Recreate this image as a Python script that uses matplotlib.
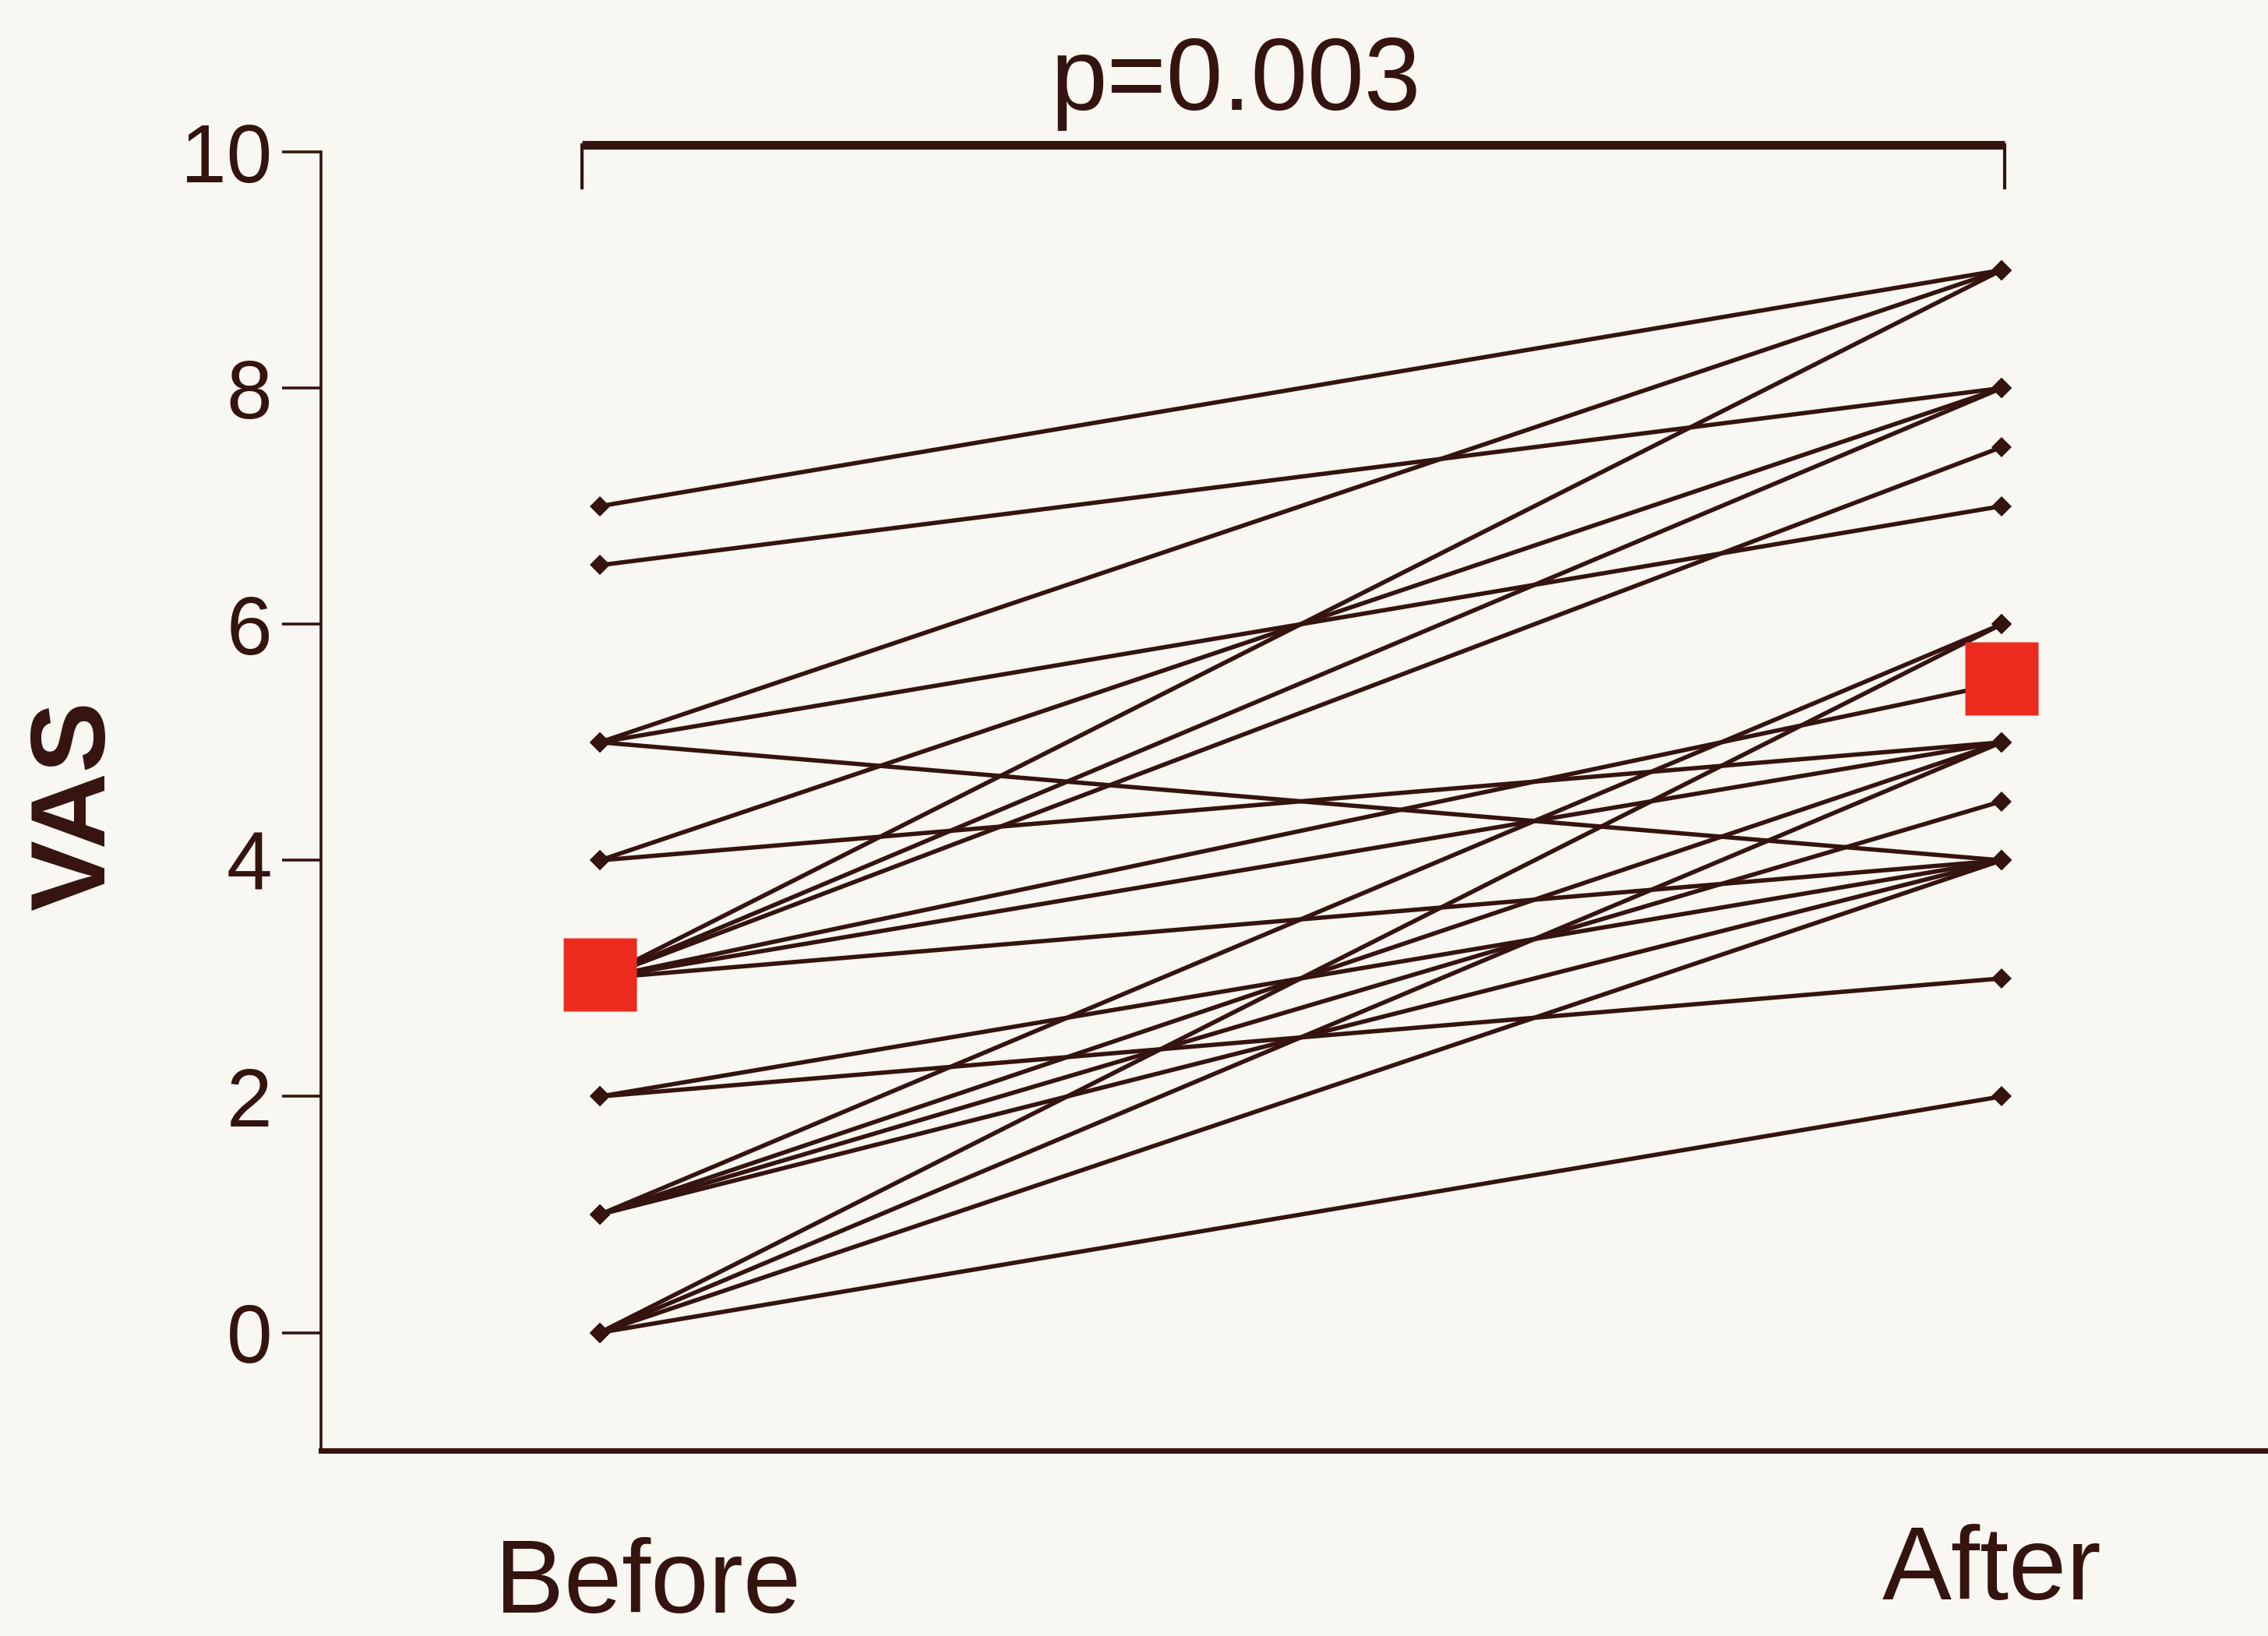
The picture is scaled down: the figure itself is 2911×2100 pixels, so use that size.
import matplotlib.pyplot as plt
import numpy as np

plt.rcParams["font.family"] = ["Liberation Sans", "DejaVu Sans"]

GROUPS = ["Before", "After"]
# paired VAS scores, one entry per patient
VAS_BEFORE = [7, 6.5, 5, 5, 5, 4, 4, 3, 3, 3, 3, 3, 3, 2, 2, 1, 1, 1, 1, 0, 0, 0, 0]
VAS_AFTER = [9, 8, 9, 7, 4, 8, 5, 9, 8, 7.5, 5.5, 5, 4, 4, 3, 6, 5, 4.5, 4, 6, 5, 4, 2]
MEAN_VAS = [3.03, 5.54]
P_LABEL = "p=0.003"
Y_TICKS = [0, 2, 4, 6, 8, 10]

INK = "#35130f"
RED = "#ec2a1e"
PAPER = "#f8f7f2"

fig = plt.figure(figsize=(29.11, 21.0), dpi=100, facecolor=PAPER)
ax = fig.add_axes([0.1415, 0.1133, 0.8585, 0.7938])
ax.set_facecolor(PAPER)

x = np.arange(len(GROUPS))
for b, a in zip(VAS_BEFORE, VAS_AFTER):
    ax.plot(x, [b, a], color=INK, lw=4.0, marker="D", ms=13, mew=0, zorder=2)
ax.plot(x, MEAN_VAS, ls="none", marker="s", ms=68, color=RED, mec="none", zorder=3)

ax.set_xlim(-0.199, 1.19)
ax.set_ylim(-1, 10)
ax.set_yticks(Y_TICKS)
ax.set_xticks([])
ax.spines[["top", "right"]].set_visible(False)
ax.spines["left"].set_linewidth(2.6)
ax.spines["bottom"].set_linewidth(5)
for side in ("left", "bottom"):
    ax.spines[side].set_color(INK)
ax.tick_params(axis="y", direction="out", length=36, width=2.6, pad=9,
               labelsize=76, colors=INK)

# significance bracket over both time points
ax.plot([-0.013, 1.002], [10.06, 10.06], color=INK, lw=8, clip_on=False,
        solid_capstyle="butt")
ax.plot([-0.013, -0.013], [10.06, 9.7], color=INK, lw=3, clip_on=False)
ax.plot([1.002, 1.002], [10.06, 9.7], color=INK, lw=3, clip_on=False)
ax.text(0.454, 10.36, P_LABEL, ha="center", va="baseline", fontsize=94,
        color=INK, clip_on=False)

lab = ax.get_xaxis_transform()
ax.text(x[0] + 0.034, -0.1248, GROUPS[0], transform=lab, ha="center",
        va="baseline", fontsize=96, color=INK)
ax.text(x[1] - 0.007, -0.1146, GROUPS[1], transform=lab, ha="center",
        va="baseline", fontsize=96, color=INK)

fig.text(0.034, 0.5076, "VAS", rotation=90, ha="center", va="center",
         fontsize=98, fontweight="bold", color=INK)

fig.savefig("out.png", dpi=100, facecolor=PAPER)
